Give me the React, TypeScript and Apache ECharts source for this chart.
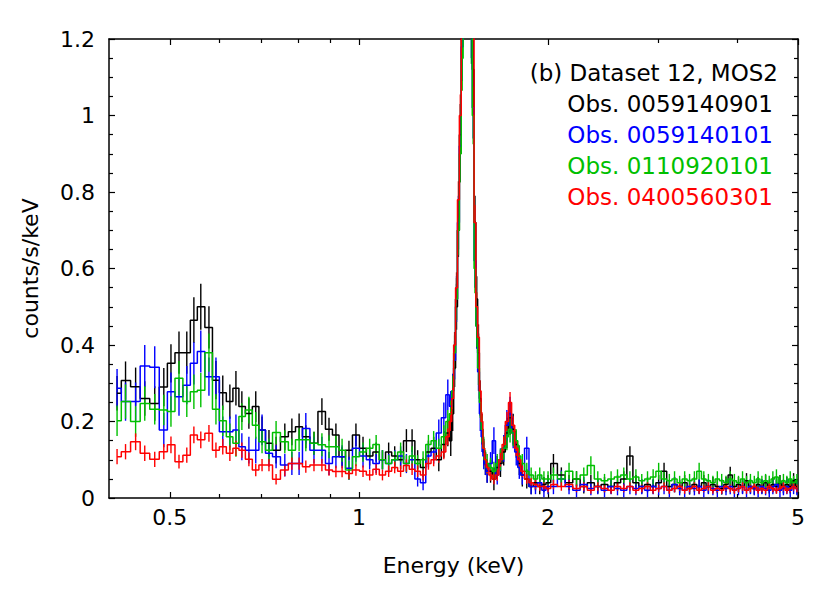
import React, { useEffect, useRef } from "react";
import * as echarts from "echarts";

// Energy bin centres (keV)
const energy = [
  0.412, 0.425, 0.441, 0.456, 0.473, 0.489, 0.502, 0.517, 0.532, 0.546, 0.56, 0.577, 0.592, 0.607, 0.623, 0.637, 0.651,
  0.668, 0.685, 0.701, 0.719, 0.738, 0.762, 0.782, 0.803, 0.823, 0.848, 0.873, 0.896, 0.919, 0.94, 0.964, 0.989,
  1.015, 1.04, 1.065, 1.09, 1.115, 1.14, 1.165, 1.19, 1.215, 1.24, 1.265, 1.29, 1.315, 1.34, 1.365, 1.385,
  1.4, 1.41, 1.42, 1.43, 1.44, 1.45, 1.46, 1.47, 1.48, 1.49, 1.5, 1.51, 1.52, 1.53, 1.54, 1.55, 1.56, 1.57, 1.58, 1.59, 1.6,
  1.62, 1.64, 1.66, 1.68, 1.7, 1.72, 1.74, 1.76, 1.78, 1.8, 1.82, 1.85, 1.88, 1.91, 1.94, 1.97, 2.0,
  2.04, 2.1, 2.16, 2.22, 2.28, 2.34, 2.4, 2.46, 2.52, 2.58, 2.64, 2.7, 2.76, 2.82, 2.88, 2.94, 3.0, 3.06, 3.12, 3.18,
  3.24, 3.3, 3.36, 3.42, 3.48, 3.54, 3.6, 3.66, 3.72, 3.78, 3.84, 3.9, 3.96, 4.02, 4.08, 4.14, 4.2, 4.26, 4.32, 4.38,
  4.44, 4.5, 4.56, 4.62, 4.68, 4.74, 4.8, 4.86, 4.92, 4.98,
];

// Obs. 0059140901 (black)
const obs0901 = [
  0.274, 0.307, 0.291, 0.26, 0.247, 0.29, 0.352, 0.38, 0.38, 0.465, 0.5, 0.446, 0.308, 0.275, 0.252, 0.287, 0.239,
  0.221, 0.239, 0.178, 0.143, 0.125, 0.16, 0.173, 0.186, 0.16, 0.143, 0.226, 0.18, 0.165, 0.108, 0.125, 0.165,
  0.13, 0.11, 0.12, 0.1, 0.12, 0.11, 0.1, 0.15, 0.15, 0.1, 0.08, 0.12, 0.13, 0.1, 0.14, 0.17,
  0.15, 0.22, 0.34, 0.5, 0.7, 0.95, 1.22, 1.4, 1.48, 1.45, 1.4, 1.32, 1.12, 0.72, 0.52, 0.38, 0.26, 0.18, 0.12, 0.09, 0.07,
  0.07, 0.05, 0.08, 0.09, 0.12, 0.17, 0.21, 0.18, 0.14, 0.09, 0.06, 0.05, 0.03, 0.04, 0.03, 0.035, 0.04,
  0.09, 0.06, 0.04, 0.05, 0.03, 0.04, 0.03, 0.035, 0.03, 0.04, 0.05, 0.11, 0.04, 0.03, 0.035, 0.03, 0.04, 0.07, 0.03, 0.035,
  0.03, 0.04, 0.025, 0.035, 0.03, 0.04, 0.03, 0.035, 0.03, 0.025, 0.035, 0.06, 0.03, 0.035, 0.03, 0.045, 0.03, 0.025, 0.035, 0.03,
  0.04, 0.03, 0.035, 0.03, 0.04, 0.03, 0.035, 0.03, 0.045, 0.03,
];
const err0901 = [
  0.045, 0.05, 0.05, 0.045, 0.045, 0.05, 0.05, 0.055, 0.055, 0.06, 0.06, 0.055, 0.05, 0.045, 0.045, 0.045, 0.04,
  0.04, 0.04, 0.035, 0.035, 0.035, 0.035, 0.035, 0.035, 0.03, 0.03, 0.035, 0.03, 0.03, 0.025, 0.025, 0.03,
  0.03, 0.025, 0.025, 0.025, 0.025, 0.025, 0.025, 0.03, 0.03, 0.025, 0.025, 0.03, 0.03, 0.03, 0.035, 0.035,
  0.04, 0.045, 0.05, 0.06, 0.07, 0.08, 0.09, 0.1, 0.1, 0.1, 0.1, 0.09, 0.08, 0.07, 0.06, 0.05, 0.045, 0.04, 0.035, 0.03, 0.03,
  0.03, 0.03, 0.03, 0.035, 0.035, 0.04, 0.045, 0.04, 0.035, 0.03, 0.03, 0.025, 0.02, 0.02, 0.02, 0.02, 0.02,
  0.025, 0.02, 0.02, 0.02, 0.018, 0.02, 0.018, 0.02, 0.018, 0.02, 0.02, 0.025, 0.02, 0.018, 0.02, 0.018, 0.02, 0.022, 0.018, 0.02,
  0.018, 0.02, 0.016, 0.02, 0.018, 0.02, 0.018, 0.02, 0.018, 0.016, 0.02, 0.022, 0.018, 0.02, 0.018, 0.02, 0.018, 0.016, 0.02, 0.018,
  0.02, 0.018, 0.02, 0.018, 0.02, 0.018, 0.02, 0.018, 0.02, 0.018,
];

// Obs. 0059140101 (blue)
const obs0101 = [
  0.287, 0.252, 0.252, 0.345, 0.342, 0.178, 0.278, 0.265, 0.295, 0.352, 0.383, 0.317, 0.317, 0.173, 0.173, 0.178, 0.134,
  0.125, 0.125, 0.178, 0.117, 0.108, 0.086, 0.09, 0.09, 0.182, 0.125, 0.125, 0.09, 0.108, 0.108, 0.078, 0.13,
  0.11, 0.1, 0.09, 0.1, 0.09, 0.1, 0.11, 0.09, 0.1, 0.05, 0.04, 0.11, 0.12, 0.17, 0.21, 0.27,
  0.24, 0.28, 0.36, 0.52, 0.72, 0.92, 1.18, 1.35, 1.42, 1.4, 1.32, 1.24, 1.02, 0.62, 0.45, 0.33, 0.22, 0.16, 0.11, 0.09, 0.07,
  0.09, 0.15, 0.06, 0.1, 0.13, 0.19, 0.22, 0.17, 0.12, 0.08, 0.06, 0.13, 0.03, 0.03, 0.04, 0.02, 0.03,
  0.03, 0.05, 0.03, 0.02, 0.035, 0.025, 0.03, 0.02, 0.03, 0.025, 0.02, 0.03, 0.025, 0.03, 0.02, 0.03, 0.025, 0.03, 0.02, 0.035,
  0.025, 0.02, 0.03, 0.025, 0.03, 0.02, 0.03, 0.025, 0.02, 0.03, 0.025, 0.03, 0.02, 0.025, 0.03, 0.02, 0.03, 0.025, 0.02, 0.03,
  0.025, 0.02, 0.03, 0.035, 0.02, 0.025, 0.03, 0.02, 0.03, 0.025,
];
const err0101 = [
  0.05, 0.05, 0.05, 0.055, 0.055, 0.045, 0.05, 0.05, 0.05, 0.055, 0.055, 0.05, 0.05, 0.04, 0.04, 0.04, 0.035,
  0.035, 0.035, 0.04, 0.035, 0.03, 0.03, 0.03, 0.03, 0.04, 0.035, 0.035, 0.03, 0.03, 0.03, 0.03, 0.035,
  0.03, 0.025, 0.025, 0.025, 0.025, 0.025, 0.025, 0.025, 0.025, 0.02, 0.02, 0.03, 0.03, 0.035, 0.04, 0.04,
  0.04, 0.045, 0.05, 0.06, 0.07, 0.08, 0.09, 0.1, 0.1, 0.1, 0.1, 0.09, 0.08, 0.07, 0.06, 0.05, 0.045, 0.04, 0.035, 0.03, 0.03,
  0.03, 0.035, 0.025, 0.03, 0.035, 0.04, 0.045, 0.04, 0.035, 0.03, 0.025, 0.03, 0.02, 0.02, 0.02, 0.018, 0.02,
  0.02, 0.022, 0.02, 0.018, 0.02, 0.018, 0.02, 0.018, 0.02, 0.018, 0.018, 0.02, 0.018, 0.02, 0.018, 0.02, 0.018, 0.02, 0.018, 0.02,
  0.018, 0.018, 0.02, 0.018, 0.02, 0.018, 0.02, 0.018, 0.018, 0.02, 0.018, 0.02, 0.018, 0.018, 0.02, 0.018, 0.02, 0.018, 0.018, 0.02,
  0.018, 0.018, 0.02, 0.02, 0.018, 0.018, 0.02, 0.018, 0.02, 0.018,
];

// Obs. 0110920101 (green)
const obs0920 = [
  0.202, 0.252, 0.2, 0.247, 0.232, 0.23, 0.226, 0.313, 0.252, 0.278, 0.282, 0.38, 0.232, 0.202, 0.16, 0.143, 0.213,
  0.23, 0.19, 0.147, 0.125, 0.171, 0.147, 0.125, 0.152, 0.152, 0.143, 0.139, 0.134, 0.134, 0.125, 0.073, 0.108,
  0.12, 0.13, 0.14, 0.1, 0.09, 0.1, 0.12, 0.09, 0.11, 0.09, 0.1, 0.14, 0.15, 0.13, 0.16, 0.2,
  0.22, 0.28, 0.38, 0.52, 0.7, 0.9, 1.15, 1.32, 1.4, 1.38, 1.3, 1.22, 1.0, 0.6, 0.45, 0.34, 0.25, 0.18, 0.13, 0.1, 0.09,
  0.08, 0.07, 0.09, 0.1, 0.13, 0.16, 0.18, 0.17, 0.15, 0.11, 0.09, 0.07, 0.06, 0.05, 0.06, 0.05, 0.05,
  0.06, 0.05, 0.07, 0.05, 0.06, 0.085, 0.05, 0.045, 0.05, 0.055, 0.06, 0.05, 0.055, 0.045, 0.05, 0.055, 0.07, 0.05, 0.045, 0.05,
  0.04, 0.05, 0.045, 0.05, 0.07, 0.05, 0.045, 0.04, 0.05, 0.045, 0.04, 0.05, 0.045, 0.04, 0.05, 0.04, 0.045, 0.04, 0.05, 0.04,
  0.045, 0.04, 0.05, 0.055, 0.04, 0.045, 0.04, 0.05, 0.04, 0.045,
];
const err0920 = [
  0.04, 0.045, 0.04, 0.045, 0.04, 0.04, 0.04, 0.045, 0.04, 0.045, 0.045, 0.05, 0.04, 0.04, 0.035, 0.035, 0.035,
  0.035, 0.035, 0.03, 0.03, 0.03, 0.03, 0.03, 0.03, 0.03, 0.03, 0.03, 0.03, 0.03, 0.03, 0.025, 0.025,
  0.025, 0.025, 0.025, 0.025, 0.022, 0.022, 0.025, 0.022, 0.025, 0.022, 0.022, 0.025, 0.025, 0.025, 0.03, 0.03,
  0.035, 0.04, 0.045, 0.055, 0.065, 0.075, 0.085, 0.09, 0.09, 0.09, 0.09, 0.085, 0.075, 0.065, 0.055, 0.045, 0.04, 0.035, 0.03, 0.025, 0.025,
  0.025, 0.025, 0.025, 0.028, 0.03, 0.035, 0.035, 0.035, 0.03, 0.028, 0.025, 0.022, 0.02, 0.02, 0.02, 0.02, 0.02,
  0.02, 0.02, 0.022, 0.02, 0.02, 0.024, 0.02, 0.018, 0.02, 0.02, 0.02, 0.02, 0.02, 0.018, 0.02, 0.02, 0.022, 0.02, 0.018, 0.02,
  0.018, 0.02, 0.018, 0.02, 0.022, 0.02, 0.018, 0.018, 0.02, 0.018, 0.018, 0.02, 0.018, 0.018, 0.02, 0.018, 0.018, 0.018, 0.02, 0.018,
  0.018, 0.018, 0.02, 0.02, 0.018, 0.018, 0.018, 0.02, 0.018, 0.018,
];

// Obs. 0400560301 (red)
const obs0301 = [
  0.108, 0.121, 0.147, 0.117, 0.101, 0.121, 0.139, 0.095, 0.112, 0.165, 0.152, 0.169, 0.125, 0.134, 0.117, 0.13, 0.125,
  0.101, 0.073, 0.086, 0.086, 0.049, 0.073, 0.09, 0.09, 0.082, 0.086, 0.086, 0.073, 0.069, 0.069, 0.064, 0.073,
  0.07, 0.06, 0.075, 0.06, 0.07, 0.08, 0.07, 0.085, 0.075, 0.07, 0.06, 0.09, 0.1, 0.11, 0.12, 0.16,
  0.2, 0.26, 0.4, 0.55, 0.78, 1.0, 1.3, 1.45, 1.52, 1.5, 1.45, 1.38, 1.25, 0.72, 0.5, 0.42, 0.28, 0.2, 0.13, 0.1, 0.08,
  0.06, 0.05, 0.06, 0.1, 0.14, 0.2, 0.25, 0.19, 0.13, 0.1, 0.07, 0.05, 0.04, 0.035, 0.03, 0.03, 0.025,
  0.035, 0.03, 0.035, 0.025, 0.03, 0.02, 0.03, 0.025, 0.02, 0.03, 0.025, 0.03, 0.02, 0.025, 0.03, 0.02, 0.025, 0.03, 0.02, 0.025,
  0.03, 0.02, 0.025, 0.03, 0.02, 0.025, 0.03, 0.02, 0.025, 0.02, 0.03, 0.025, 0.02, 0.025, 0.03, 0.02, 0.025, 0.03, 0.02, 0.025,
  0.02, 0.03, 0.025, 0.02, 0.025, 0.03, 0.02, 0.025, 0.03, 0.025,
];
const err0301 = [
  0.02, 0.02, 0.022, 0.02, 0.02, 0.02, 0.022, 0.018, 0.02, 0.022, 0.022, 0.022, 0.02, 0.02, 0.02, 0.02, 0.02,
  0.018, 0.016, 0.016, 0.016, 0.014, 0.016, 0.016, 0.016, 0.016, 0.016, 0.016, 0.015, 0.015, 0.015, 0.015, 0.015,
  0.015, 0.014, 0.015, 0.014, 0.015, 0.015, 0.015, 0.016, 0.015, 0.015, 0.014, 0.016, 0.017, 0.018, 0.019, 0.022,
  0.025, 0.028, 0.034, 0.04, 0.048, 0.055, 0.062, 0.066, 0.068, 0.068, 0.066, 0.062, 0.054, 0.046, 0.038, 0.034, 0.028, 0.024, 0.02, 0.017, 0.016,
  0.015, 0.014, 0.015, 0.018, 0.021, 0.025, 0.027, 0.024, 0.02, 0.018, 0.015, 0.013, 0.012, 0.012, 0.011, 0.011, 0.01,
  0.012, 0.011, 0.012, 0.01, 0.011, 0.009, 0.011, 0.01, 0.009, 0.011, 0.01, 0.011, 0.009, 0.01, 0.011, 0.009, 0.01, 0.011, 0.009, 0.01,
  0.011, 0.009, 0.01, 0.011, 0.009, 0.01, 0.011, 0.009, 0.01, 0.009, 0.011, 0.01, 0.009, 0.01, 0.011, 0.009, 0.01, 0.011, 0.009, 0.01,
  0.009, 0.011, 0.01, 0.009, 0.01, 0.011, 0.009, 0.01, 0.011, 0.01,
];

const xLabelTicks = [0.5, 1, 2, 5];
const xMinorTicks = [0.6, 0.7, 0.8, 0.9, 3, 4];

const titleLine = "(b) Dataset 12, MOS2";
const obsNames = ["Obs. 0059140901", "Obs. 0059140101", "Obs. 0110920101", "Obs. 0400560301"];
const colors = ["#000000", "#0000ff", "#00c000", "#ff0000"];
const seriesVals = [obs0901, obs0101, obs0920, obs0301];
const seriesErr = [err0901, err0101, err0920, err0301];

const FONT = "DejaVu Sans";
const Y_MAX = 1.2;

export default function App() {
  const ref = useRef<HTMLDivElement>(null);

  useEffect(() => {
    if (!ref.current) return;
    const chart = echarts.init(ref.current, undefined, { renderer: "svg" });

    const fmt = (v: number) => String(+Number(v).toPrecision(6));

    const baseX = {
      type: "log" as const,
      min: 0.4,
      max: 5,
      logBase: 10,
      splitLine: { show: false },
      minorTick: { show: false },
      minorSplitLine: { show: false },
    };

    const series: any[] = [];
    seriesVals.forEach((vals, si) => {
      const color = colors[si];
      const lineData = energy.map((e, i) => [e, vals[i]]);
      const errData = energy.map((e, i) => [e, vals[i], seriesErr[si][i]]);
      series.push({
        type: "line",
        name: obsNames[si],
        data: lineData,
        step: "middle",
        showSymbol: false,
        symbol: "none",
        clip: true,
        lineStyle: { color, width: 1.5 },
        itemStyle: { color },
        z: 2,
      });
      series.push({
        type: "custom",
        name: obsNames[si] + " err",
        data: errData,
        encode: { x: 0, y: 1 },
        z: 2,
        renderItem: (params: any, api: any) => {
          const x = api.value(0);
          const y = api.value(1);
          const e = api.value(2);
          const lo = Math.max(y - e, 0);
          const hi = Math.min(y + e, Y_MAX);
          if (lo >= hi) return null;
          const p1 = api.coord([x, lo]);
          const p2 = api.coord([x, hi]);
          return {
            type: "line",
            shape: { x1: p1[0], y1: p1[1], x2: p2[0], y2: p2[1] },
            style: { stroke: color, lineWidth: 1.4 },
          };
        },
      });
    });

    const legendTexts = [titleLine, ...obsNames].map((t, i) => ({
      type: "text",
      x: i === 0 ? 778 : 773,
      y: 73 + i * 31,
      style: {
        text: t,
        fill: i === 0 ? "#000000" : colors[i - 1],
        fontSize: 23,
        fontFamily: FONT,
        align: "right",
        verticalAlign: "middle",
      },
      z: 10,
    }));

    chart.setOption({
      animation: false,
      backgroundColor: "#ffffff",
      grid: { left: 109, right: 32, top: 39, bottom: 95, containLabel: false },
      xAxis: [
        {
          ...baseX,
          position: "bottom",
          axisLine: { show: true, onZero: false, lineStyle: { color: "#000", width: 1.5 } },
          axisTick: { show: true, inside: true, length: 6, customValues: xLabelTicks, lineStyle: { color: "#000", width: 1.2 } },
          axisLabel: {
            show: true,
            customValues: xLabelTicks,
            formatter: fmt,
            fontSize: 22,
            fontFamily: FONT,
            color: "#000",
            margin: 8,
          },
          name: "Energy (keV)",
          nameLocation: "middle",
          nameGap: 56,
          nameTextStyle: { fontSize: 22, fontFamily: FONT, color: "#000" },
        },
        {
          ...baseX,
          position: "bottom",
          axisLine: { show: false, onZero: false },
          axisTick: { show: true, inside: true, length: 4, customValues: xMinorTicks, lineStyle: { color: "#000", width: 1.2 } },
          axisLabel: { show: false },
        },
        {
          ...baseX,
          position: "top",
          axisLine: { show: true, onZero: false, lineStyle: { color: "#000", width: 1.5 } },
          axisTick: { show: true, inside: true, length: 6, customValues: xLabelTicks, lineStyle: { color: "#000", width: 1.2 } },
          axisLabel: { show: false },
        },
        {
          ...baseX,
          position: "top",
          axisLine: { show: false, onZero: false },
          axisTick: { show: true, inside: true, length: 4, customValues: xMinorTicks, lineStyle: { color: "#000", width: 1.2 } },
          axisLabel: { show: false },
        },
      ],
      yAxis: [
        {
          type: "value",
          min: 0,
          max: Y_MAX,
          interval: 0.2,
          position: "left",
          axisLine: { show: true, onZero: false, lineStyle: { color: "#000", width: 1.5 } },
          axisTick: { show: true, inside: true, length: 6, lineStyle: { color: "#000", width: 1.2 } },
          minorTick: { show: true, splitNumber: 4, length: 4, lineStyle: { color: "#000", width: 1.2 } },
          splitLine: { show: false },
          minorSplitLine: { show: false },
          axisLabel: { fontSize: 22, fontFamily: FONT, color: "#000", margin: 14 },
          name: "counts/s/keV",
          nameLocation: "middle",
          nameGap: 68,
          nameRotate: 90,
          nameTextStyle: { fontSize: 22, fontFamily: FONT, color: "#000" },
        },
        {
          type: "value",
          min: 0,
          max: Y_MAX,
          interval: 0.2,
          position: "right",
          axisLine: { show: true, onZero: false, lineStyle: { color: "#000", width: 1.5 } },
          axisTick: { show: true, inside: true, length: 6, lineStyle: { color: "#000", width: 1.2 } },
          minorTick: { show: true, splitNumber: 4, length: 4, lineStyle: { color: "#000", width: 1.2 } },
          splitLine: { show: false },
          minorSplitLine: { show: false },
          axisLabel: { show: false },
        },
      ],
      series,
      graphic: legendTexts,
    });

    return () => {
      chart.dispose();
    };
  }, []);

  return (
    <div
      ref={ref}
      style={{ position: "absolute", left: 0, top: 0, width: 830, height: 593, background: "#fff" }}
    />
  );
}
